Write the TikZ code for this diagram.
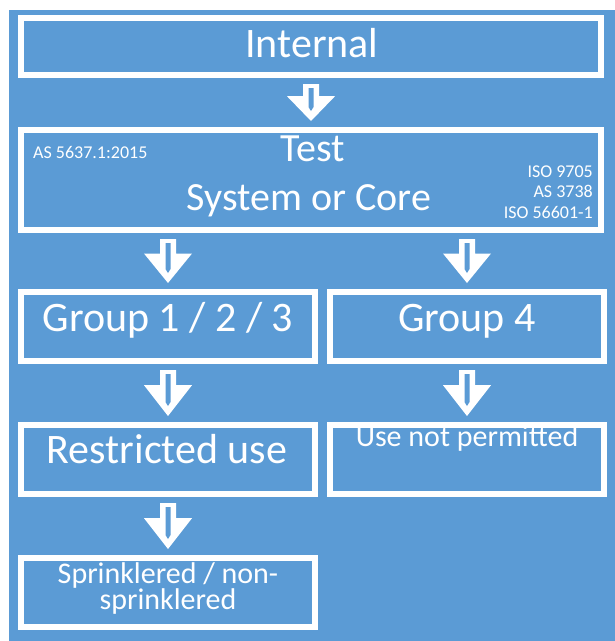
\documentclass[tikz,border=0pt]{standalone}
\usepackage{fontspec}
\setmainfont{Carlito}
\usetikzlibrary{calc}
\definecolor{bg}{HTML}{5B9BD5}
\newcommand\barrow[2]{%
  \path[arr] let \p1=(#1), \p2=(#2) in
    (\x2-8pt,\y1-6pt) -- (\x2+8pt,\y1-6pt)
    -- (\x2+8pt,{0.67*(\y1-6pt)+0.33*(\y2+6pt)})
    -- (\x2+24pt,{0.67*(\y1-6pt)+0.33*(\y2+6pt)})
    -- (\x2,\y2+6pt)
    -- (\x2-24pt,{0.67*(\y1-6pt)+0.33*(\y2+6pt)})
    -- (\x2-8pt,{0.67*(\y1-6pt)+0.33*(\y2+6pt)})
    -- cycle;
  \path[arrin] let \p1=(#1), \p2=(#2) in
    (\x2-2.5pt,\y1-10pt) -- (\x2+2.5pt,\y1-10pt)
    -- (\x2+2.5pt,\y2+20pt) -- (\x2,\y2+16pt) -- (\x2-2.5pt,\y2+20pt) -- cycle;}
\begin{document}
\begin{tikzpicture}[x=1pt,y=-1pt,
  box/.style={draw=white, line width=6pt, rectangle, inner sep=0pt},
  wide/.style={box, minimum width=580pt},
  left/.style={box, minimum width=294pt, minimum height=69pt},
  right/.style={box, minimum width=274pt, minimum height=69pt},
  big/.style={text=white, font=\fontsize{42}{44}\selectfont, inner sep=0pt, anchor=base},
  sys/.style={text=white, font=\fontsize{40}{44}\selectfont, inner sep=0pt, anchor=base},
  mid/.style={text=white, font=\fontsize{30}{26}\selectfont, inner sep=0pt, anchor=base},
  tiny/.style={text=white, font=\fontsize{18}{21}\selectfont, inner sep=0pt},
  arr/.style={fill=white},
  arrin/.style={fill=bg}]
\useasboundingbox (0,0) rectangle (615,641);
\fill[white] (0,0) rectangle (615,641);
\fill[bg] (8.5,10) rectangle (615,641);

\node[wide, minimum height=57pt] (int) at (311,46.5) {};
\node[wide, minimum height=100pt] (test) at (311,180) {};
\node[left] (g1) at (168,326.5) {};
\node[right] (g4) at (467,326.5) {};
\node[left] (rest) at (168,459.5) {};
\node[right] (unp) at (467,459.5) {};
\node[left] (spr) at (168,592.5) {};

\node[big] (tint) at (312,57) {Internal};
\node[sys] (ttest) at (313,161) {Test};
\node[sys] (tsys) at (309,210) {System or Core};
\node[tiny, anchor=base west] (tas) at (33,158) {AS 5637.1:2015};
\node[tiny, anchor=base east] (tiso1) at (593,177) {ISO 9705};
\node[tiny, anchor=base east] (tas2) at (593,197) {AS 3738};
\node[tiny, anchor=base east] (tiso2) at (593,218) {ISO 56601-1};
\node[big] (tg1) at (168,331) {Group 1 / 2 / 3};
\node[big] (tg4) at (467,331) {Group 4};
\node[big] (trest) at (167,463) {Restricted use};
\node[mid] (tunp) at (467,446) {Use not permitted};
\node[mid, align=center, anchor=center] (tspr) at (168,588) {Sprinklered / non-\\sprinklered};

\barrow{int.south}{test.north}
\barrow{test.south -| g1.north}{g1.north}
\barrow{test.south -| g4.north}{g4.north}
\barrow{g1.south}{rest.north}
\barrow{g4.south}{unp.north}
\barrow{rest.south}{spr.north}
\end{tikzpicture}
\end{document}
